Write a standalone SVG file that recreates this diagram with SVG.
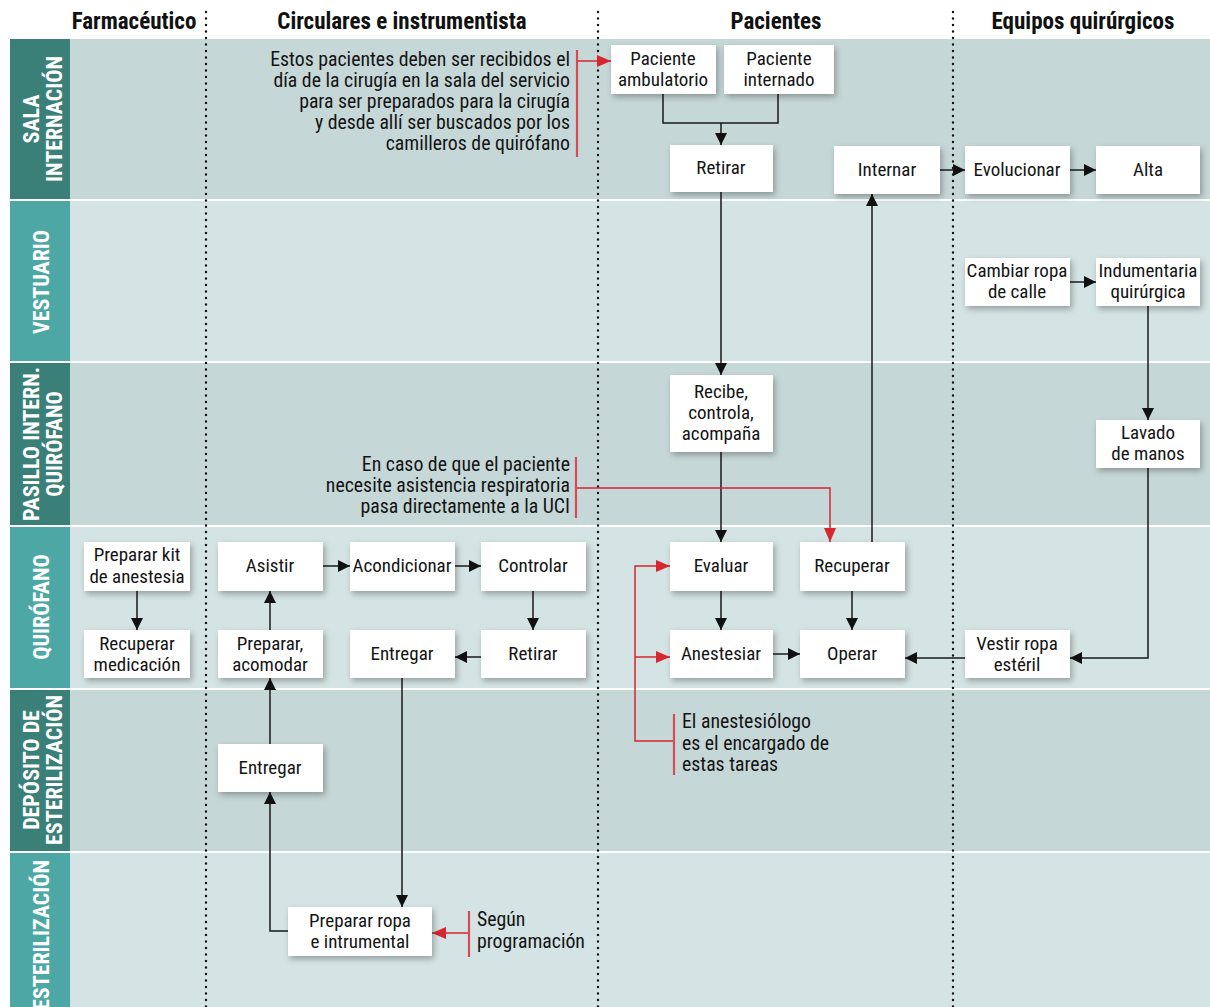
<svg xmlns="http://www.w3.org/2000/svg" width="1210" height="1007" viewBox="0 0 1210 1007">
<defs>
<filter id="sh" x="-20%" y="-20%" width="150%" height="160%">
<feDropShadow dx="2" dy="3" stdDeviation="3" flood-color="#000" flood-opacity="0.3"/>
</filter>
<marker id="ab" markerUnits="userSpaceOnUse" markerWidth="12" markerHeight="12" refX="12" refY="6" orient="auto">
<path d="M0,0 L12,6 L0,12 z" fill="#111"/>
</marker>
<marker id="ar" markerUnits="userSpaceOnUse" markerWidth="14" markerHeight="12" refX="14" refY="6" orient="auto">
<path d="M0,0 L14,6 L0,12 z" fill="#d7262f"/>
</marker>
</defs>
<style>
.t{font-family:"Liberation Sans Narrow","Roboto Condensed","DejaVu Sans Condensed","Liberation Sans",sans-serif;font-size:19px;fill:#141414}
.a{font-size:19.8px}
.c{text-anchor:middle}
.r{text-anchor:end}
.h{font-family:"Liberation Sans Narrow","Roboto Condensed","DejaVu Sans Condensed","Liberation Sans",sans-serif;font-size:23px;font-weight:bold;fill:#111;text-anchor:middle}
.lab{font-family:"Liberation Sans Narrow","Roboto Condensed","DejaVu Sans Condensed","Liberation Sans",sans-serif;font-size:22px;font-weight:bold;fill:#fff;text-anchor:middle}
.n rect{fill:#fff;filter:url(#sh)}
.k{stroke:#1a1a1a;stroke-width:1.5;fill:none}
.kr{stroke:#d7262f;stroke-width:1.5;fill:none}
.bar{stroke:#d94a52;stroke-width:2.2;fill:none}
.dot{stroke:#111;stroke-width:2.4;stroke-linecap:round;stroke-dasharray:0.1 6.4;fill:none}
</style>
<rect width="1210" height="1007" fill="#fff"/>
<g id="lanes">
<rect x="10" y="39" width="60" height="160" fill="#3b7f79"/>
<rect x="70" y="39" width="1140" height="160" fill="#c6d7d7"/>
<rect x="10" y="201" width="60" height="160" fill="#4da8a5"/>
<rect x="70" y="201" width="1140" height="160" fill="#d4e3e3"/>
<rect x="10" y="363" width="60" height="162" fill="#3b7f79"/>
<rect x="70" y="363" width="1140" height="162" fill="#c6d7d7"/>
<rect x="10" y="527" width="60" height="161" fill="#4da8a5"/>
<rect x="70" y="527" width="1140" height="161" fill="#d4e3e3"/>
<rect x="10" y="690" width="60" height="161" fill="#3b7f79"/>
<rect x="70" y="690" width="1140" height="161" fill="#c6d7d7"/>
<rect x="10" y="853" width="60" height="154" fill="#4da8a5"/>
<rect x="70" y="853" width="1140" height="154" fill="#d4e3e3"/>
<text class="lab" transform="translate(39,119) rotate(-90)">SALA</text>
<text class="lab" transform="translate(62,119) rotate(-90)">INTERNACIÓN</text>
<text class="lab" transform="translate(49,282) rotate(-90)">VESTUARIO</text>
<text class="lab" transform="translate(39,444) rotate(-90)">PASILLO INTERN.</text>
<text class="lab" transform="translate(62,444) rotate(-90)">QUIRÓFANO</text>
<text class="lab" transform="translate(49,607) rotate(-90)">QUIRÓFANO</text>
<text class="lab" transform="translate(39,770) rotate(-90)">DEPÓSITO DE</text>
<text class="lab" transform="translate(62,770) rotate(-90)">ESTERILIZACIÓN</text>
<text class="lab" transform="translate(49,935) rotate(-90)">ESTERILIZACIÓN</text>
</g>
<g id="columns">
<text class="h" x="134" y="29">Farmacéutico</text>
<text class="h" x="402" y="29">Circulares e instrumentista</text>
<text class="h" x="776" y="29">Pacientes</text>
<text class="h" x="1083" y="29">Equipos quirúrgicos</text>
<line class="dot" x1="206" y1="12" x2="206" y2="1007"/>
<line class="dot" x1="598" y1="12" x2="598" y2="1007"/>
<line class="dot" x1="953" y1="12" x2="953" y2="1007"/>
</g>
<g id="connectors">
<path class="k" d="M663,94 V123 H778 V94"/>
<path class="k" d="M721,123 V145" marker-end="url(#ab)"/>
<path class="k" d="M721,192 V375" marker-end="url(#ab)"/>
<path class="k" d="M721,452 V542" marker-end="url(#ab)"/>
<path class="k" d="M721,591 V630" marker-end="url(#ab)"/>
<path class="k" d="M773,654 H800" marker-end="url(#ab)"/>
<path class="k" d="M852,591 V630" marker-end="url(#ab)"/>
<path class="k" d="M872,542 V194" marker-end="url(#ab)"/>
<path class="k" d="M940,170 H965" marker-end="url(#ab)"/>
<path class="k" d="M1070,170 H1096" marker-end="url(#ab)"/>
<path class="k" d="M1070,282 H1096" marker-end="url(#ab)"/>
<path class="k" d="M1148,306 V420" marker-end="url(#ab)"/>
<path class="k" d="M1148,468 V658 H1070" marker-end="url(#ab)"/>
<path class="k" d="M965,658 H905" marker-end="url(#ab)"/>
<path class="k" d="M137,591 V630" marker-end="url(#ab)"/>
<path class="k" d="M323,566 H350" marker-end="url(#ab)"/>
<path class="k" d="M455,566 H481" marker-end="url(#ab)"/>
<path class="k" d="M533,591 V630" marker-end="url(#ab)"/>
<path class="k" d="M481,657 H455" marker-end="url(#ab)"/>
<path class="k" d="M270,630 V591" marker-end="url(#ab)"/>
<path class="k" d="M270,744 V678" marker-end="url(#ab)"/>
<path class="k" d="M288,931 H270 V792" marker-end="url(#ab)"/>
<path class="k" d="M402,678 V907" marker-end="url(#ab)"/>
<path class="kr" d="M577,61 H611" marker-end="url(#ar)"/>
<path class="kr" d="M576,488 H830 V542" marker-end="url(#ar)"/>
<path class="kr" d="M674,741 H635 V566 H670" marker-end="url(#ar)"/>
<path class="kr" d="M635,657 H670" marker-end="url(#ar)"/>
<path class="kr" d="M469,933 H432" marker-end="url(#ar)"/>
</g>
<g id="annotations">
<line class="bar" x1="577" y1="50" x2="577" y2="157"/>
<text class="t a r" x="570" y="66">Estos pacientes deben ser recibidos el</text>
<text class="t a r" x="570" y="87">día de la cirugía en la sala del servicio</text>
<text class="t a r" x="570" y="108">para ser preparados para la cirugía</text>
<text class="t a r" x="570" y="129">y desde allí ser buscados por los</text>
<text class="t a r" x="570" y="150">camilleros de quirófano</text>
<line class="bar" x1="576" y1="457" x2="576" y2="518"/>
<text class="t a r" x="570" y="471">En caso de que el paciente</text>
<text class="t a r" x="570" y="492">necesite asistencia respiratoria</text>
<text class="t a r" x="570" y="513">pasa directamente a la UCI</text>
<line class="bar" x1="674" y1="714" x2="674" y2="775"/>
<text class="t a" x="682" y="728">El anestesiólogo</text>
<text class="t a" x="682" y="750">es el encargado de</text>
<text class="t a" x="682" y="771">estas tareas</text>
<line class="bar" x1="469" y1="911" x2="469" y2="957"/>
<text class="t a" x="477" y="926">Según</text>
<text class="t a" x="477" y="948">programación</text>
</g>
<g id="n-amb" class="n"><rect x="611" y="45" width="105" height="49"/><text class="t c" x="663" y="65">Paciente</text><text class="t c" x="663" y="86">ambulatorio</text></g>
<g id="n-int" class="n"><rect x="724" y="45" width="110" height="49"/><text class="t c" x="779" y="65">Paciente</text><text class="t c" x="779" y="86">internado</text></g>
<g id="n-retirar1" class="n"><rect x="670" y="145" width="103" height="47"/><text class="t c" x="721" y="174">Retirar</text></g>
<g id="n-internar" class="n"><rect x="834" y="146" width="106" height="48"/><text class="t c" x="887" y="176">Internar</text></g>
<g id="n-evolucionar" class="n"><rect x="965" y="146" width="105" height="48"/><text class="t c" x="1017" y="176">Evolucionar</text></g>
<g id="n-alta" class="n"><rect x="1096" y="146" width="104" height="48"/><text class="t c" x="1148" y="176">Alta</text></g>
<g id="n-cambiar" class="n"><rect x="965" y="258" width="105" height="48"/><text class="t c" x="1017" y="277">Cambiar ropa</text><text class="t c" x="1017" y="298">de calle</text></g>
<g id="n-indum" class="n"><rect x="1096" y="258" width="104" height="48"/><text class="t c" x="1148" y="277">Indumentaria</text><text class="t c" x="1148" y="298">quirúrgica</text></g>
<g id="n-recibe" class="n"><rect x="670" y="375" width="103" height="77"/><text class="t c" x="721" y="398">Recibe,</text><text class="t c" x="721" y="419">controla,</text><text class="t c" x="721" y="440">acompaña</text></g>
<g id="n-lavado" class="n"><rect x="1096" y="420" width="104" height="48"/><text class="t c" x="1148" y="439">Lavado</text><text class="t c" x="1148" y="460">de manos</text></g>
<g id="n-kit" class="n"><rect x="84" y="542" width="106" height="49"/><text class="t c" x="137" y="561">Preparar kit</text><text class="t c" x="137" y="583">de anestesia</text></g>
<g id="n-recmed" class="n"><rect x="84" y="630" width="106" height="48"/><text class="t c" x="137" y="650">Recuperar</text><text class="t c" x="137" y="671">medicación</text></g>
<g id="n-asistir" class="n"><rect x="218" y="542" width="105" height="49"/><text class="t c" x="270" y="572">Asistir</text></g>
<g id="n-acond" class="n"><rect x="350" y="542" width="105" height="49"/><text class="t c" x="402" y="572">Acondicionar</text></g>
<g id="n-controlar" class="n"><rect x="481" y="542" width="105" height="49"/><text class="t c" x="533" y="572">Controlar</text></g>
<g id="n-prepacom" class="n"><rect x="218" y="630" width="105" height="48"/><text class="t c" x="270" y="650">Preparar,</text><text class="t c" x="270" y="671">acomodar</text></g>
<g id="n-entregar1" class="n"><rect x="350" y="630" width="105" height="48"/><text class="t c" x="402" y="660">Entregar</text></g>
<g id="n-retirar2" class="n"><rect x="481" y="630" width="105" height="48"/><text class="t c" x="533" y="660">Retirar</text></g>
<g id="n-evaluar" class="n"><rect x="670" y="542" width="103" height="49"/><text class="t c" x="721" y="572">Evaluar</text></g>
<g id="n-recuperar" class="n"><rect x="800" y="542" width="105" height="49"/><text class="t c" x="852" y="572">Recuperar</text></g>
<g id="n-anest" class="n"><rect x="670" y="630" width="103" height="48"/><text class="t c" x="721" y="660">Anestesiar</text></g>
<g id="n-operar" class="n"><rect x="800" y="630" width="105" height="48"/><text class="t c" x="852" y="660">Operar</text></g>
<g id="n-vestir" class="n"><rect x="965" y="630" width="105" height="48"/><text class="t c" x="1017" y="650">Vestir ropa</text><text class="t c" x="1017" y="671">estéril</text></g>
<g id="n-entregar2" class="n"><rect x="218" y="744" width="105" height="48"/><text class="t c" x="270" y="774">Entregar</text></g>
<g id="n-prepropa" class="n"><rect x="288" y="907" width="144" height="49"/><text class="t c" x="360" y="927">Preparar ropa</text><text class="t c" x="360" y="948">e intrumental</text></g>
</svg>
